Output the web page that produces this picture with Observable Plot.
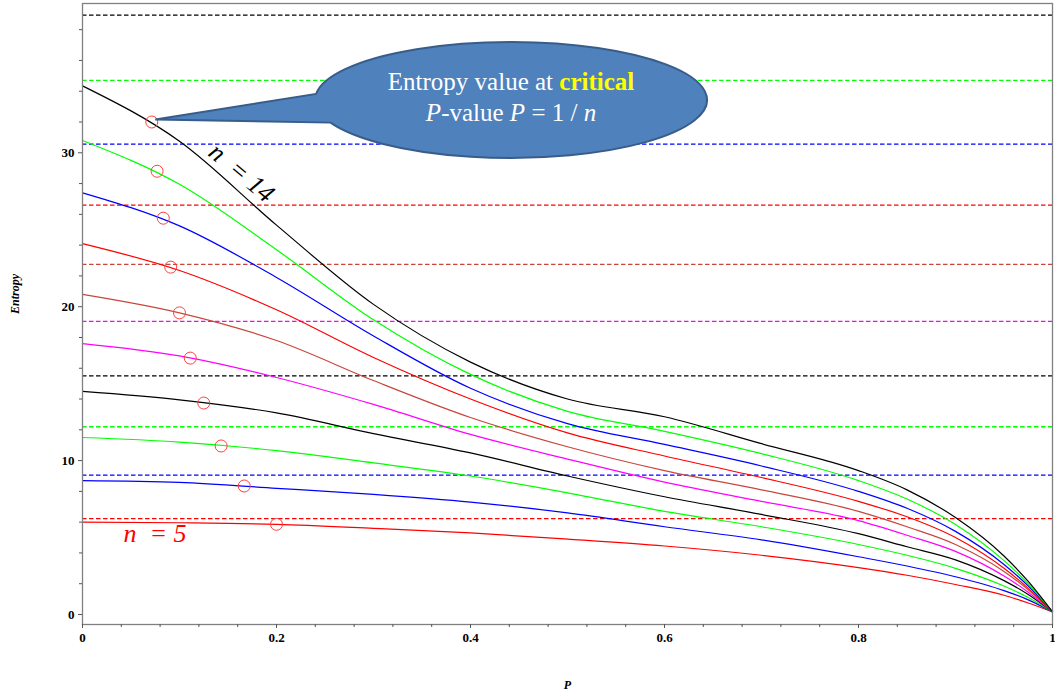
<!DOCTYPE html>
<html><head><meta charset="utf-8">
<script src="https://cdn.jsdelivr.net/npm/d3@7"></script>
<script src="https://cdn.jsdelivr.net/npm/@observablehq/plot@0.6"></script>
<style>
html,body{margin:0;padding:0;background:#fff;}
#chart svg{display:block;}
#chart svg, #chart svg text, #chart svg tspan{font-family:"Liberation Serif","Times New Roman","DejaVu Serif",serif !important;}
g[aria-label="x-axis tick label"], g[aria-label="y-axis tick label"]{font-weight:bold;font-size:13px;}
</style>
</head><body><div id="chart"></div>
<script>
// P grid shared by all curves
const P = [0, 0.1, 0.2, 0.3, 0.4, 0.5, 0.6, 0.7, 0.8, 0.85, 0.9, 0.95, 0.975, 1];
const nList = [5, 6, 7, 8, 9, 10, 11, 12, 13, 14];
const S5  = [6.0, 5.96, 5.86, 5.6, 5.3, 4.9, 4.45, 3.85, 3.05, 2.55, 1.95, 1.25, 0.75, 0.17];
const S6  = [8.7, 8.58, 8.2, 7.8, 7.3, 6.6, 5.7, 4.85, 3.75, 3.15, 2.45, 1.55, 0.95, 0.17];
const S7  = [11.5, 11.2, 10.65, 9.85, 9.0, 7.9, 6.7, 5.7, 4.55, 3.85, 3.0, 1.85, 1.1, 0.17];
const S8  = [14.5, 13.95, 13.1, 11.75, 10.5, 9.0, 7.65, 6.5, 5.25, 4.4, 3.55, 2.2, 1.3, 0.17];
const S9  = [17.6, 16.8, 15.4, 13.65, 11.7, 10.1, 8.6, 7.35, 6.1, 5.15, 4.1, 2.5, 1.45, 0.17];
const S10 = [20.8, 19.6, 17.8, 15.2, 12.8, 10.9, 9.35, 8.1, 6.7, 5.7, 4.55, 2.8, 1.6, 0.17];
const S11 = [24.1, 22.35, 19.8, 16.7, 14.0, 11.8, 10.3, 8.9, 7.35, 6.35, 5.0, 3.0, 1.7, 0.17];
const S12 = [27.4, 25.25, 21.9, 18.1, 14.7, 12.4, 11.05, 9.65, 8.0, 6.9, 5.4, 3.25, 1.85, 0.17];
const S13 = [30.8, 27.95, 23.7, 19.15, 15.6, 13.2, 11.9, 10.45, 8.7, 7.5, 5.85, 3.5, 2.0, 0.17];
const S14 = [34.35, 30.75, 25.3, 20.15, 16.4, 14.0, 12.85, 11.1, 9.35, 8.1, 6.3, 3.8, 2.15, 0.17];
const seriesValues = [S5, S6, S7, S8, S9, S10, S11, S12, S13, S14];
const seriesColors = ["#ff0000", "#0000ff", "#00ff00", "#000000", "#ff00ff", "#c8463c", "#ff0000", "#0000ff", "#00ff00", "#000000"];
// critical P-value P = 1/n and entropy there
const criticalP = [0.2, 0.1667, 0.1429, 0.125, 0.1111, 0.1, 0.0909, 0.0833, 0.0769, 0.0714];
const criticalS = [5.86, 8.35, 10.95, 13.74, 16.66, 19.6, 22.57, 25.75, 28.8, 32.0];
// dashed horizontal levels
const maxS = [6.23, 9.05, 12.2, 15.5, 19.05, 22.75, 26.6, 30.56, 34.7, 38.95];
// ticks
const xMajor = [0, 0.2, 0.4, 0.6, 0.8, 1];
const xMajorLabels = ["0", "0.2", "0.4", "0.6", "0.8", "1"];
const xMinor = [0.04, 0.08, 0.12, 0.16, 0.24, 0.28, 0.32, 0.36, 0.44, 0.48, 0.52, 0.56, 0.64, 0.68, 0.72, 0.76, 0.84, 0.88, 0.92, 0.96];
const yMajor = [0, 10, 20, 30];
const yMajorLabels = ["0", "10", "20", "30"];
const yMinor = [2, 4, 6, 8, 12, 14, 16, 18, 22, 24, 26, 28, 32, 34, 36, 38];
// curve labels
const labelTexts = ["n\u00a0\u00a0= 14", "n\u00a0\u00a0= 5"];
const labelP = [0.164, 0.0747];
const labelS = [28.7, 5.28];
const labelRotate = [40, 0];
const labelColors = ["#000000", "#ff0000"];
const calloutCenter = [0.4423, 33.4];

const serif = "'Liberation Serif', 'Times New Roman', 'DejaVu Serif', serif";

const curveRows = [];
nList.forEach((n, i) => {
  P.forEach((p, j) => curveRows.push({n, P: p, v: seriesValues[i][j], color: seriesColors[i]}));
});
const dashRows = nList.map((n, i) => ({n, v: maxS[i], color: seriesColors[i]}));
const critRows = nList.map((n, i) => ({n, P: criticalP[i], v: criticalS[i]}));
const labelRows = labelTexts.map((t, i) => ({t, P: labelP[i], v: labelS[i], r: labelRotate[i], c: labelColors[i]}));

const plot = Plot.plot({
  width: 1055, height: 700,
  marginLeft: 82, marginRight: 3, marginTop: 3, marginBottom: 76,
  x: {domain: [0, 1], label: null},
  y: {domain: [-0.65, 39.7], label: null},
  color: {type: "identity"},
  style: {background: "white", overflow: "visible"},
  marks: [
    Plot.ruleY(dashRows, {y: "v", stroke: "color", strokeDasharray: "4.5,2.5", strokeWidth: 1.3}),
    Plot.line(curveRows, {x: "P", y: "v", z: "n", stroke: "color", strokeWidth: 1.2, curve: "monotone-x"}),
    Plot.dot(critRows, {x: "P", y: "v", r: 6, stroke: "#ff4040", strokeWidth: 1}),
    Plot.frame({stroke: "#808080", strokeWidth: 1.3}),
    Plot.axisX(xMinor, {tickSize: 3, tickFormat: () => "", stroke: "#555"}),
    Plot.axisX(xMajor, {tickSize: 4, tickPadding: 4, stroke: "#555", fill: "black",
      tickFormat: (d) => xMajorLabels[xMajor.indexOf(d)], fontWeight: "bold", fontSize: 13}),
    Plot.axisY(yMinor, {tickSize: 3, tickFormat: () => "", stroke: "#555"}),
    Plot.axisY(yMajor, {tickSize: 4, tickPadding: 4, stroke: "#555", fill: "black",
      tickFormat: (d) => yMajorLabels[yMajor.indexOf(d)], fontWeight: "bold", fontSize: 13}),
    Plot.text(["P"], {frameAnchor: "bottom", dy: 64, fontWeight: "bold", fontStyle: "italic", fontSize: 12, fill: "black"}),
    Plot.text(["Entropy"], {frameAnchor: "left", dx: -67, rotate: -90, fontWeight: "bold", fontStyle: "italic", fontSize: 12, fill: "black"}),
    Plot.text(labelRows, {x: "P", y: "v", text: "t", rotate: "r", fill: "c", fontSize: 26, fontStyle: "italic"})
  ]
});
document.getElementById("chart").appendChild(plot);

// Callout annotation anchored to the n = 14 critical point
const xs = plot.scale("x"), ys = plot.scale("y");
const svg = d3.select(plot);
const tipX = xs.apply(criticalP[9]) + 4, tipY = ys.apply(criticalS[9]) - 2;
const cx = xs.apply(calloutCenter[0]), cy = ys.apply(calloutCenter[1]);
const rx = 196, ry = 58;
const a1 = 186 * Math.PI / 180, a2 = 157 * Math.PI / 180;
const p1 = [cx + rx * Math.cos(a1), cy + ry * Math.sin(a1)];
const p2 = [cx + rx * Math.cos(a2), cy + ry * Math.sin(a2)];
svg.append("path")
  .attr("d", `M${tipX},${tipY}L${p1[0]},${p1[1]}A${rx},${ry} 0 1 1 ${p2[0]},${p2[1]}Z`)
  .attr("fill", "#4f81bd").attr("stroke", "#385d8a").attr("stroke-width", 2);
const g = svg.append("g").attr("font-family", serif).attr("font-size", 25)
  .attr("fill", "white").attr("text-anchor", "middle");
const l1 = g.append("text").attr("x", cx).attr("y", cy - 10);
l1.append("tspan").text("Entropy value at ");
l1.append("tspan").attr("fill", "#ffff00").attr("font-weight", "bold").text("critical");
const l2 = g.append("text").attr("x", cx).attr("y", cy + 21);
l2.append("tspan").attr("font-style", "italic").text("P");
l2.append("tspan").text("-value ");
l2.append("tspan").attr("font-style", "italic").text("P");
l2.append("tspan").text(" = 1 / ");
l2.append("tspan").attr("font-style", "italic").text("n");
</script></body></html>
